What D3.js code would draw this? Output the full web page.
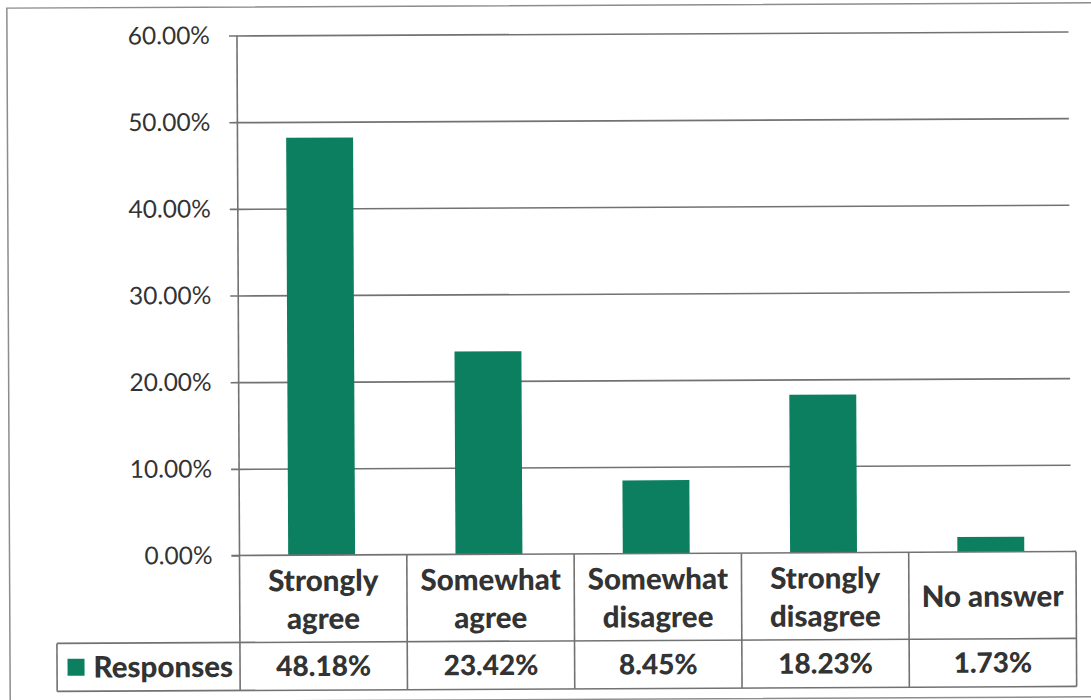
<!DOCTYPE html>
<html>
<head>
<meta charset="utf-8">
<script src="https://cdn.jsdelivr.net/npm/d3@7"></script>
<style>
  html, body { margin: 0; padding: 0; background: #fff; }
  svg { display: block; }
  text { font-family: Lato, "Open Sans", sans-serif; fill: #333; }
</style>
</head>
<body>
<svg id="chart" width="1091" height="700"></svg>
<script>
// Survey responses, share of respondents per answer (%)
const categories = ["Strongly\nagree", "Somewhat\nagree", "Somewhat\ndisagree", "Strongly\ndisagree", "No answer"];
const values = [48.18, 23.42, 8.45, 18.23, 1.73];
const seriesName = "Responses";
const yTicks = [0, 10, 20, 30, 40, 50, 60];

const svg = d3.select("#chart");
const root = svg.append("g").attr("transform", "rotate(-0.28 545 350)");

const plot = { left: 238.5, right: 1075, top: 34, bottom: 554 };
const gridRight = 1070;
const table = { row1: 554, row2: 641, bottom: 689, legendLeft: 55.5 };
const lineColor = "#727272";
const barColor = "#0b7f5f";
const textColor = "#333";

// outer chart border
root.append("rect")
  .attr("x", 8.5).attr("y", 5.5).attr("width", 1090).attr("height", 694)
  .attr("fill", "none").attr("stroke", "#8c8c8c").attr("stroke-width", 1.5);

const x = d3.scaleBand().domain(categories).range([plot.left, plot.right]).padding(0);
const y = d3.scaleLinear().domain([0, 60]).range([plot.bottom, plot.top]);

// horizontal gridlines
const grid = root.append("g")
  .attr("transform", `translate(${plot.left},0)`)
  .call(d3.axisLeft(y).tickValues(yTicks.slice(1)).tickSize(-(gridRight - plot.left)).tickFormat(""));
grid.select(".domain").remove();
grid.selectAll("line").attr("stroke", lineColor).attr("stroke-width", 1.6);

// value axis: outward ticks and percent labels
const yAxis = root.append("g")
  .attr("transform", `translate(${plot.left},0)`)
  .call(d3.axisLeft(y).tickValues(yTicks).tickSize(8).tickPadding(19)
    .tickFormat(d => d3.format(".2f")(d) + "%"));
yAxis.select(".domain").remove();
yAxis.selectAll("line").attr("stroke", lineColor).attr("stroke-width", 1.6);
yAxis.selectAll("text")
  .attr("font-size", 24.5).attr("font-family", "Lato, sans-serif").attr("fill", textColor);

// bars
const barW = x.bandwidth() * 0.4;
root.append("g").selectAll("rect")
  .data(values)
  .join("rect")
  .attr("x", (d, i) => x(categories[i]) + (x.bandwidth() - barW) / 2 - 1.5)
  .attr("y", d => y(d))
  .attr("width", barW)
  .attr("height", d => y(0) - y(d))
  .attr("fill", barColor);

// data table grid
const tg = root.append("g").attr("stroke", lineColor).attr("stroke-width", 1.6).attr("fill", "none");
tg.append("line").attr("x1", plot.left).attr("x2", plot.left).attr("y1", plot.top).attr("y2", table.bottom);
tg.append("line").attr("x1", gridRight).attr("x2", plot.right).attr("y1", table.row1).attr("y2", table.row1);
tg.append("line").attr("x1", plot.left - 8).attr("x2", gridRight).attr("y1", table.row1).attr("y2", table.row1);
tg.append("line").attr("x1", table.legendLeft).attr("x2", plot.right).attr("y1", table.row2).attr("y2", table.row2);
tg.append("line").attr("x1", table.legendLeft).attr("x2", plot.right).attr("y1", table.bottom).attr("y2", table.bottom);
tg.append("line").attr("x1", table.legendLeft).attr("x2", table.legendLeft).attr("y1", table.row2).attr("y2", table.bottom);
tg.selectAll(null)
  .data(categories)
  .join("line")
  .attr("x1", d => x(d) + x.bandwidth()).attr("x2", d => x(d) + x.bandwidth())
  .attr("y1", table.row1).attr("y2", table.bottom);

// category labels
const catRowMid = (table.row1 + table.row2) / 2;
const lineH = 38;
root.append("g").selectAll("text")
  .data(categories)
  .join("text")
  .attr("x", d => x(d) + x.bandwidth() / 2)
  .attr("text-anchor", "middle")
  .attr("font-size", 29.5).attr("font-weight", 900)
  .each(function (d) {
    const lines = d.split("\n");
    const t = d3.select(this);
    lines.forEach((ln, k) => {
      t.append("tspan")
        .attr("x", x(d) + x.bandwidth() / 2)
        .attr("y", catRowMid + 1 + (k - (lines.length - 1) / 2) * lineH)
        .attr("dy", "0.35em")
        .text(ln);
    });
  });

// value row
const valRowMid = (table.row2 + table.bottom) / 2;
root.append("g").selectAll("text")
  .data(values)
  .join("text")
  .attr("x", (d, i) => x(categories[i]) + x.bandwidth() / 2)
  .attr("y", valRowMid)
  .attr("dy", "0.35em")
  .attr("text-anchor", "middle")
  .attr("font-size", 28).attr("font-weight", 900)
  .text(d => d3.format(".2f")(d) + "%");

// legend key and series name
root.append("rect")
  .attr("x", 66).attr("y", valRowMid - 8.5).attr("width", 17).attr("height", 17)
  .attr("fill", barColor);
root.append("text")
  .attr("x", 92).attr("y", valRowMid).attr("dy", "0.35em")
  .attr("font-size", 29.5).attr("font-weight", 900)
  .text(seriesName);
</script>
</body>
</html>
